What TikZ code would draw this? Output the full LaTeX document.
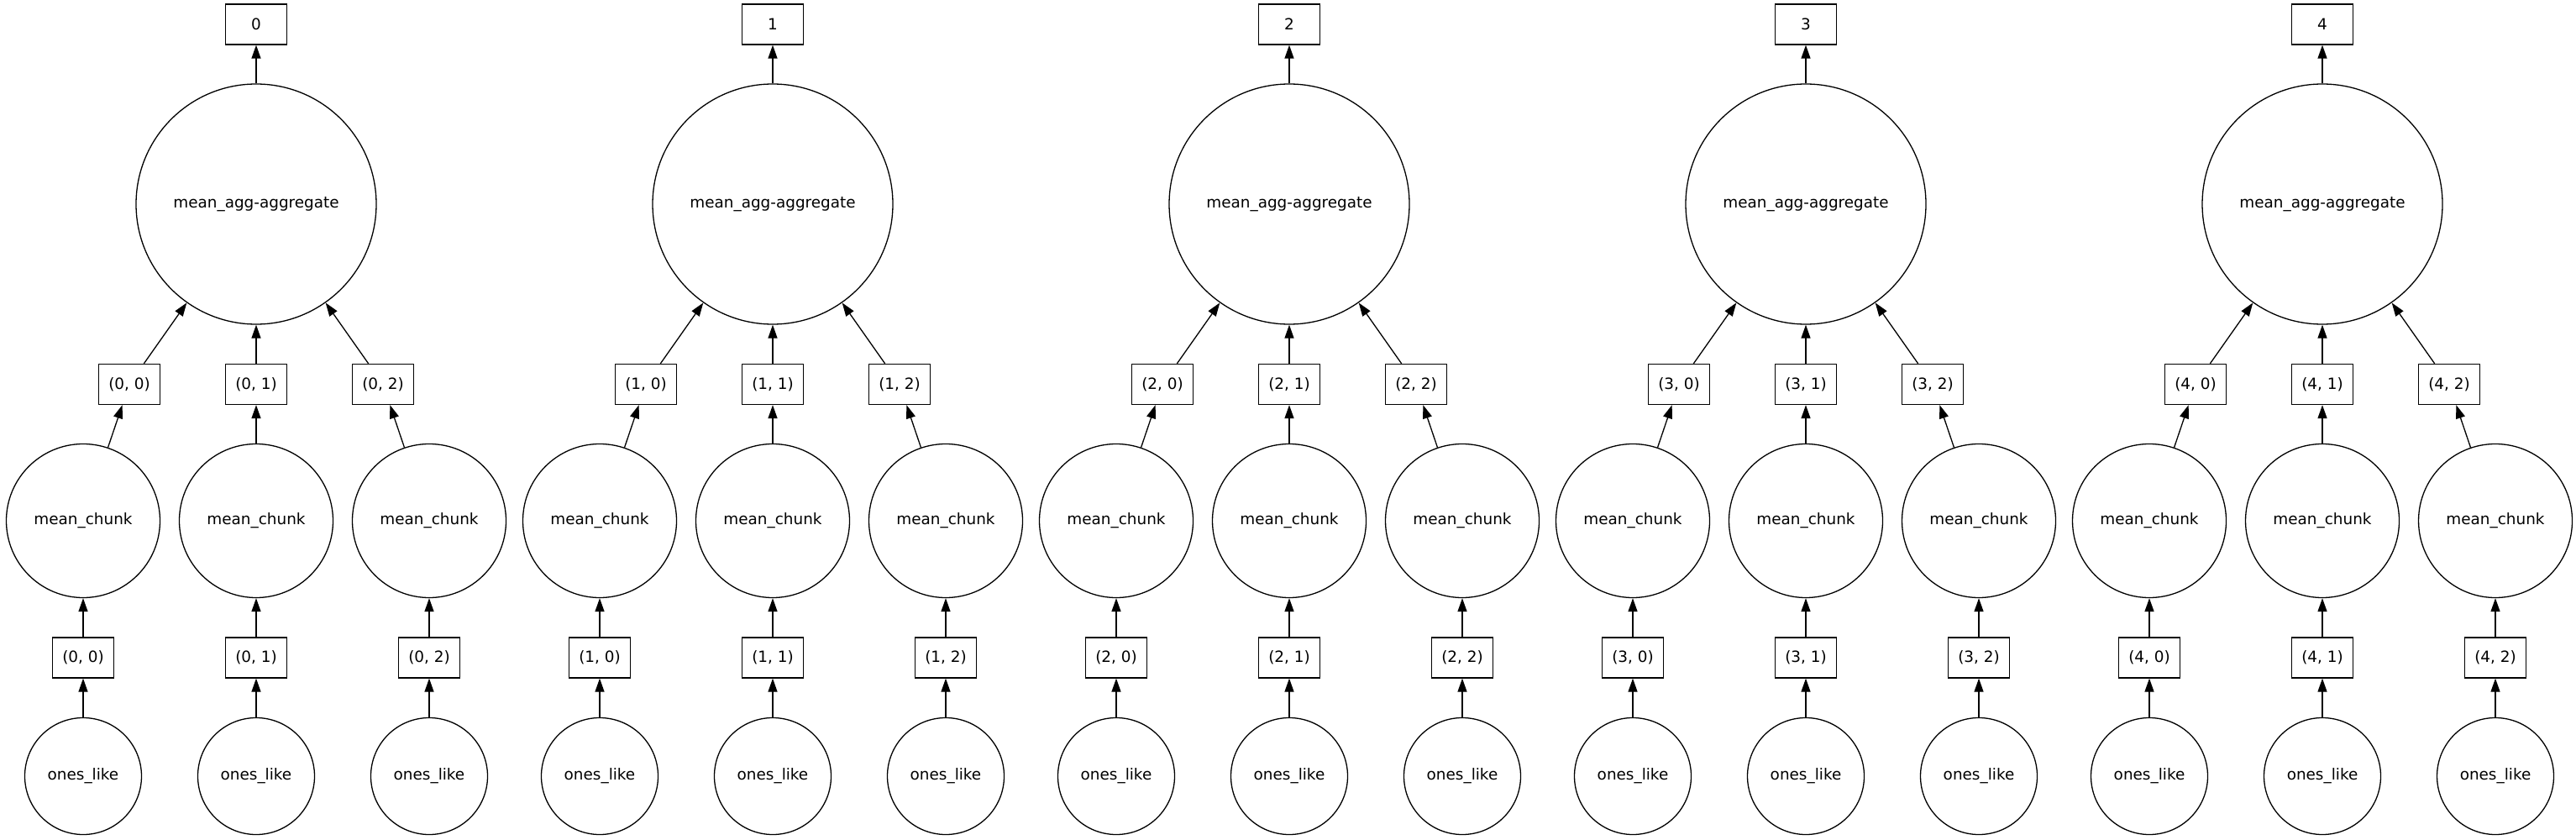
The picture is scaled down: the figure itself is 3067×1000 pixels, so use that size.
\documentclass[tikz,border=0pt]{standalone}
\usepackage{fontspec}
\setmainfont{DejaVu Sans}
\usetikzlibrary{arrows.meta}
\begin{document}
\begin{tikzpicture}[x=0.5pt,y=-0.5pt,
  font=\fontsize{9.2}{11}\selectfont,
  boxnode/.style={draw, line width=0.65pt, minimum width=36.5pt, minimum height=24pt, inner sep=0pt},
  aggnode/.style={draw, circle, line width=0.65pt, minimum size=143pt, inner sep=0pt},
  chunknode/.style={draw, circle, line width=0.65pt, minimum size=91.5pt, inner sep=0pt},
  onesnode/.style={draw, circle, line width=0.65pt, minimum size=69.5pt, inner sep=0pt},
  arr/.style={-{Triangle[length=8pt,width=5.5pt]}, line width=0.65pt}
]
\useasboundingbox (0,0) rectangle (3067,1000);
\foreach \k in {0,...,4}{
  \pgfmathsetmacro{\cx}{305+615*\k}
  \node[boxnode] (top\k) at (\cx,29) {\k};
  \node[aggnode] (agg\k) at (\cx,243) {mean\_agg-aggregate};
  \draw[arr] (agg\k) -- (top\k);
  \foreach \j/\uo/\mo in {0/-151/-206, 1/0/0, 2/151/206}{
    \pgfmathsetmacro{\ux}{\cx+\uo}
    \pgfmathsetmacro{\mx}{\cx+\mo}
    \node[boxnode] (ub\k\j) at (\ux,457.5) {(\k, \j)};
    \node[chunknode] (mc\k\j) at (\mx,620) {mean\_chunk};
    \node[boxnode] (lb\k\j) at (\mx,783) {(\k, \j)};
    \node[onesnode] (ol\k\j) at (\mx,924) {ones\_like};
    \draw[arr] (ub\k\j) -- (agg\k);
    \draw[arr] (mc\k\j) -- (ub\k\j);
    \draw[arr] (lb\k\j) -- (mc\k\j);
    \draw[arr] (ol\k\j) -- (lb\k\j);
  }
}
\end{tikzpicture}
\end{document}
